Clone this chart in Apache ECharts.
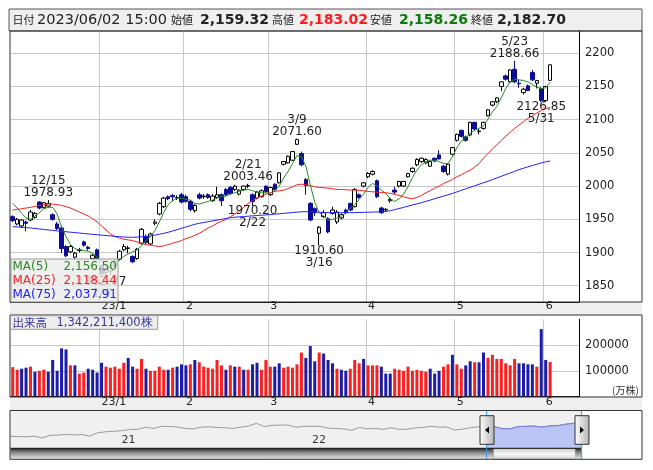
<!DOCTYPE html>
<html>
<head>
<meta charset="utf-8">
<script src="https://cdn.jsdelivr.net/npm/echarts@6/dist/echarts.min.js"></script>
<style>
  html, body { margin: 0; padding: 0; background: #fff; }
  #chart { width: 653px; height: 470px; }
</style>
</head>
<body>
<div id="chart"></div>
<script>
// trading days shown in the main window
const dates = [
  '2022/12/05','2022/12/06','2022/12/07','2022/12/08','2022/12/09','2022/12/12','2022/12/13','2022/12/14','2022/12/15','2022/12/16',
  '2022/12/19','2022/12/20','2022/12/21','2022/12/22','2022/12/23','2022/12/26','2022/12/27','2022/12/28','2022/12/29','2022/12/30',
  '2023/01/04','2023/01/05','2023/01/06','2023/01/10','2023/01/11','2023/01/12','2023/01/13','2023/01/16','2023/01/17','2023/01/18',
  '2023/01/19','2023/01/20','2023/01/23','2023/01/24','2023/01/25','2023/01/26','2023/01/27','2023/01/30','2023/01/31','2023/02/01',
  '2023/02/02','2023/02/03','2023/02/06','2023/02/07','2023/02/08','2023/02/09','2023/02/10','2023/02/13','2023/02/14','2023/02/15',
  '2023/02/16','2023/02/17','2023/02/20','2023/02/21','2023/02/22','2023/02/24','2023/02/27','2023/02/28','2023/03/01','2023/03/02',
  '2023/03/03','2023/03/06','2023/03/07','2023/03/08','2023/03/09','2023/03/10','2023/03/13','2023/03/14','2023/03/15','2023/03/16',
  '2023/03/17','2023/03/20','2023/03/22','2023/03/23','2023/03/24','2023/03/27','2023/03/28','2023/03/29','2023/03/30','2023/03/31',
  '2023/04/03','2023/04/04','2023/04/05','2023/04/06','2023/04/07','2023/04/10','2023/04/11','2023/04/12','2023/04/13','2023/04/14',
  '2023/04/17','2023/04/18','2023/04/19','2023/04/20','2023/04/21','2023/04/24','2023/04/25','2023/04/26','2023/04/27','2023/04/28',
  '2023/05/01','2023/05/02','2023/05/08','2023/05/09','2023/05/10','2023/05/11','2023/05/12','2023/05/15','2023/05/16','2023/05/17',
  '2023/05/18','2023/05/19','2023/05/22','2023/05/23','2023/05/24','2023/05/25','2023/05/26','2023/05/29','2023/05/30','2023/05/31',
  '2023/06/01','2023/06/02'
];
const padSlots = ['', '', '', '', '', ''];

const opens = [
  1954,1943,1940,1946,1949,1953,1976,1968,1970,1957,
  1943,1937,1909,1901,1893,1903,1916,1908,1891,1904,
  1880,1870,1872,1880,1890,1904,1906,1894,1891,1914,
  1924,1913,1944,1958,1969,1984,1986,1982,1987,1984,
  1977,1963,1987,1984,1987,1978,1983,1987,1995,1998,
  1995,1988,1995,2000,1987,1982,1984,2000,1987,2003,
  2005,2033,2035,2039,2063,2049,2010,1974,1966,1929,
  1954,1951,1959,1946,1952,1964,1974,1969,1987,2000,
  2014,2018,2008,1967,1964,1978,1994,2000,2000,2014,
  2022,2032,2037,2035,2030,2042,2047,2030,2018,2048,
  2069,2084,2074,2077,2096,2082,2087,2106,2122,2127,
  2150,2166,2157,2176,2155,2141,2151,2171,2155,2147,
  2129,2159.32
];
const highs = [
  1956,1952,1950,1948,1964,1961,1977,1976,1978.93,1959,
  1946,1940,1911,1911,1901,1907,1918,1910,1898,1906,
  1882,1878,1880,1890,1904,1913,1910,1896,1907,1937,
  1927,1930,1950,1976,1984,1986,1988,1986,1990,1987,
  1979,1973,1990,1988,1989,1988,1999,1989,1997,2000,
  2002,1995,2001,2003.46,1989,1993,1995,2001,1999,2004,
  2021,2038,2046,2053,2071.60,2052,2012,1976,1968,1940,
  1964,1953,1969,1964,1959,1966,1975,1997,1989,2006,
  2021,2024,2010,1969,1967,1983,1999,2008,2008,2020,
  2028,2042,2043,2042,2039,2043,2054,2032,2035,2059,
  2079,2085,2076,2097,2097,2086,2097,2116,2128,2134,
  2158,2168,2176,2188.66,2160,2148,2153,2175,2160,2149,
  2151,2183.02
];
const lows = [
  1946,1941,1937,1932,1947,1951,1965,1966,1968,1948,
  1934,1899,1893,1899,1890,1900,1909,1903,1889,1889,
  1862.87,1866,1866,1877,1888,1902,1899,1884,1889,1912,
  1912,1911,1941,1956,1967,1979,1977,1979,1974,1975,
  1962,1960,1980,1981,1981,1976,1981,1970,1985,1987,
  1993,1986,1993,1997,1970.20,1980,1983,1990,1985,1993,
  2004,2031,2034,2038,2062,2030,1987,1947,1955,1910.60,
  1952,1929,1957,1943,1950,1958,1962,1968,1981,1998,
  2012,2016,1982,1958,1962,1975,1988,1998,1999,2013,
  2020,2030,2035,2033,2029,2036,2040,2020,2016,2046,
  2067,2073,2067,2075,2084,2078,2085,2105,2120,2125,
  2143,2159,2155,2155,2148,2138,2143,2158,2147,2126.85,
  2127,2158.26
];
const closes = [
  1948,1950,1949,1944,1961,1959,1967,1975,1974,1950,
  1936,1906,1895,1909,1899,1904,1911,1906,1896,1891,
  1868,1875,1877,1887,1902,1909,1907,1886,1905,1935,
  1915,1928,1946,1974,1982,1981,1984,1983,1976,1977,
  1965,1971,1982,1985,1983,1985,1987,1978,1987,1989,
  2000,1994,2000,2001,1977,1991,1993,1992,1998,1995,
  2020,2037,2045,2052,2070,2032,2001,1949,1960,1938,
  1960,1931,1964,1961,1957,1960,1964,1995,1983,2005,
  2019,2022,1984,1960,1965,1980,1991,2007,2007,2019,
  2027,2040,2042,2040,2037,2038,2041,2022,2033,2058,
  2078,2075,2069,2096,2086,2083,2096,2115,2127,2133,
  2157,2161,2175,2157,2154,2146,2144,2160,2159,2129,
  2150,2182.70
];

const ma5 = [
  1974,1967,1959,1952,1950,1955,1960,1966,1968,1968,
  1958,1938,1924,1912,1906,1904,1903,1902,1899,1893,
  1886,1881,1878,1882,1889,1894,1898,1901,1904,1910,
  1918,1924,1933,1946,1960,1972,1978,1982,1982,1980,
  1979,1974,1973,1975,1977,1979,1982,1984,1985,1988,
  1990,1992,1994,1995,1993,1991,1990,1990,1989,1993,
  2000,2012,2022,2034,2046,2044,2030,2002,1976,1960,
  1955,1949,1950,1952,1954,1960,1967,1972,1980,1988,
  1998,2004,2001,1994,1989,1981,1977,1981,1988,1999,
  2013,2024,2032,2037,2039,2039,2037,2034,2034,2044,
  2058,2068,2073,2080,2084,2087,2091,2101,2112,2120,
  2133,2147,2157,2161,2160,2159,2157,2153,2149,2147,
  2148,2156.50
];
const ma25 = [
  1964,1965,1966,1967,1968,1969.5,1971,1972,1973,1973,
  1972,1971,1969,1967,1964,1961,1958,1955,1951,1946,
  1940,1934,1928,1924,1922,1920,1919,1918,1916,1914,
  1912,1911,1910,1909,1910,1912,1914,1916,1918,1921,
  1923,1926,1929,1933,1937,1940,1944,1947,1950,1954,
  1958,1963,1968,1974,1978,1982,1985,1988,1990,1992,
  1993,1994,1996,1999,2002,2003,2002,2001,1999,1998,
  1997.5,1997,1996,1995,1995,1994.5,1994,1994,1993.5,1993,
  1992,1991.5,1991,1990.5,1990,1989,1987.5,1986,1984,1982,
  1981,1983,1986,1990,1993,1997,2000,2004,2007,2010,
  2014,2017,2021,2024,2029,2034,2042,2049,2056,2062,
  2069,2075,2081,2087,2092,2097,2102,2106,2110,2114,
  2117,2118.44
];
const ma75 = [
  1939,1938.5,1938,1937.5,1937,1936.3,1935.5,1934.8,1934,1933.3,
  1932.6,1931.9,1931.3,1930.6,1930,1929.3,1928.7,1928,1927.4,1926.8,
  1926.2,1925.6,1925,1924.4,1923.9,1923.4,1923,1922.9,1923.3,1923.8,
  1924.4,1925,1926.3,1927.6,1928.9,1930.5,1932.5,1934.5,1936.5,1938.5,
  1940.5,1942.5,1944,1945.2,1946.4,1947.6,1948.8,1950,1951.2,1952.4,
  1953.2,1953.7,1954.2,1954.7,1955.2,1955.7,1956.2,1956.6,1957.2,1957.8,
  1958.4,1959,1959.6,1960.2,1960.8,1961.4,1961.5,1961.3,1961,1960.7,
  1960.4,1960.2,1960,1960,1960,1960,1960,1960.1,1960.3,1960.5,
  1960.7,1960.9,1961.1,1961.3,1961.6,1963,1964.7,1966.3,1968,1969.8,
  1971.6,1973.3,1975,1977,1979,1981,1983,1985,1987,1989,
  1991.3,1993.6,1995.9,1998.2,2000.5,2002.8,2005.1,2007.3,2009.8,2012.3,
  2014.8,2017.3,2019.8,2022.3,2024.8,2027,2029,2031,2033,2035,
  2036.5,2037.91
];

// volume in 万株, colour flag (u = red, d = blue)
const volumes = [
  114000,104000,108000,112000,116000,96000,100000,104000,96000,142000,
  100000,187000,183000,121000,121000,89000,93000,108000,104000,93000,
  131000,116000,112000,116000,108000,131000,150000,116000,108000,146000,
  108000,100000,100000,116000,104000,104000,112000,116000,125000,121000,
  125000,142000,133000,116000,112000,108000,142000,121000,104000,121000,
  116000,116000,104000,104000,125000,131000,104000,142000,116000,116000,
  129000,112000,116000,112000,125000,171000,150000,196000,137000,171000,
  167000,142000,129000,108000,104000,100000,108000,142000,129000,146000,
  121000,121000,121000,116000,89000,89000,108000,104000,100000,116000,
  100000,104000,100000,96000,108000,89000,100000,116000,125000,162000,
  125000,108000,121000,137000,133000,133000,171000,150000,162000,146000,
  146000,129000,121000,146000,129000,129000,125000,125000,116000,262000,
  142000,134221.14
];
const volDir = (
  'uuddudu' + 'udddd' + 'dudu' + 'uddd' +
  'duuuuuddu' + 'udu' + 'uuubudbdu' +
  'duuuuuudud' + 'ududduuudd' + 'uuuuudddud' +
  'ddudduuudu' + 'uuddduuuuu' + 'uuuddduudu' +
  'uddudduuuu' + 'uuudddduddu' + 'u'
).replace(/b/g, 'd').split('');

const highMarks = ['2022/12/15', '2023/02/21', '2023/03/09', '2023/05/23'];
const lowMarks = ['2023/01/04', '2023/02/22', '2023/03/16', '2023/05/31'];

// long-range history drawn in the navigator strip (semi-monthly)
const sliderDates = [
  '2020/06/01','2020/06/15','2020/07/01','2020/07/15','2020/08/01','2020/08/15','2020/09/01','2020/09/15','2020/10/01','2020/10/15',
  '2020/11/01','2020/11/15','2020/12/01','2020/12/15','2021/01/01','2021/01/15','2021/02/01','2021/02/15','2021/03/01','2021/03/15',
  '2021/04/01','2021/04/15','2021/05/01','2021/05/15','2021/06/01','2021/06/15','2021/07/01','2021/07/15','2021/08/01','2021/08/15',
  '2021/09/01','2021/09/15','2021/10/01','2021/10/15','2021/11/01','2021/11/15','2021/12/01','2021/12/15','2022/01/01','2022/01/15',
  '2022/02/01','2022/02/15','2022/03/01','2022/03/15','2022/04/01','2022/04/15','2022/05/01','2022/05/15','2022/06/01','2022/06/15',
  '2022/07/01','2022/07/15','2022/08/01','2022/08/15','2022/09/01','2022/09/15','2022/10/01','2022/10/15','2022/11/01','2022/11/15',
  '2022/12/01','2022/12/15','2023/01/01','2023/01/15','2023/02/01','2023/02/15','2023/03/01','2023/03/15','2023/04/01','2023/04/15',
  '2023/05/01','2023/05/15','2023/06/01'
];
const sliderValues = [
  1570,1560,1545,1575,1500,1615,1620,1650,1625,1645,
  1580,1720,1760,1780,1805,1855,1860,1950,1900,1985,
  1980,1960,1900,1880,1950,1970,1940,1930,1900,1950,
  2000,2110,1980,2030,2040,2040,1950,1990,1990,1990,
  1910,1900,1880,1820,1940,1880,1900,1860,1930,1860,
  1870,1920,1940,1990,1950,1960,1835,1870,1930,1970,
  1986,1974,1891,1886,1977,1989,1998,1960,2005,2019,
  2078,2115,2183
];
const sliderSelStart = '2022/12/01';

const cats = dates.concat(padSlots);
const monthStart = cats.map((d, i) => i > 0 && d !== '' && d.slice(5, 7) !== cats[i - 1].slice(5, 7));
const monthLabel = v => {
  const m = +v.slice(5, 7);
  return m === 1 ? v.slice(2, 4) + '/' + m : String(m);
};
const fmt2 = v => v.toLocaleString('en-US', { minimumFractionDigits: 2, maximumFractionDigits: 2 });
const md = d => (+d.slice(5, 7)) + '/' + (+d.slice(8, 10));
const last = dates.length - 1;

const NUM = '"DejaVu Sans"';
const JP = '"Noto Sans CJK JP"';

const markData = highMarks.map(d => {
  const i = dates.indexOf(d);
  return { coord: [d, highs[i]], label: { position: 'top', distance: 1, formatter: md(d) + '\n' + highs[i].toFixed(2) } };
}).concat(lowMarks.map(d => {
  const i = dates.indexOf(d);
  return { coord: [d, lows[i]], label: { position: 'bottom', distance: -1, formatter: lows[i].toFixed(2) + '\n' + md(d) } };
}));

const selIdx = sliderDates.indexOf(sliderSelStart);

const myChart = echarts.init(document.getElementById('chart'), null, { renderer: 'canvas' });
myChart.setOption({
  animation: false,
  backgroundColor: '#ffffff',
  textStyle: { fontFamily: 'DejaVu Sans' },
  grid: [
    { left: 10.5, top: 31, width: 568.5, height: 271 },
    { left: 10.5, top: 319.3, width: 568.5, height: 77.2 },
    { left: 10.5, top: 411, width: 571.1, height: 37 }
  ],
  xAxis: [
    {
      type: 'category', gridIndex: 0, data: cats, boundaryGap: true,
      axisLine: { lineStyle: { color: '#000' } },
      axisTick: { show: false },
      axisLabel: { interval: i => monthStart[i], formatter: monthLabel, align: 'left', margin: -1, fontSize: 11, color: '#222' },
      splitLine: { show: true, interval: i => monthStart[i], lineStyle: { color: '#c8c8c8', width: 1 } }
    },
    {
      type: 'category', gridIndex: 1, data: cats, boundaryGap: true,
      axisLine: { lineStyle: { color: '#000' } },
      axisTick: { show: false },
      axisLabel: { interval: i => monthStart[i], formatter: monthLabel, align: 'left', margin: 0, fontSize: 11, color: '#222' },
      splitLine: { show: true, interval: i => monthStart[i], lineStyle: { color: '#c8c8c8', width: 1 } }
    },
    {
      type: 'category', gridIndex: 2, data: sliderDates, boundaryGap: false,
      axisLine: { show: false }, axisTick: { show: false }, splitLine: { show: false },
      axisLabel: {
        inside: true, margin: 2, fontSize: 11, color: '#333', align: 'left', verticalAlign: 'bottom',
        interval: i => sliderDates[i].slice(5) === '01/01',
        formatter: v => v.slice(2, 4)
      }
    }
  ],
  yAxis: [
    {
      type: 'value', gridIndex: 0, position: 'right',
      min: 1825.5, max: 2233.6, splitNumber: 8, minInterval: 50, maxInterval: 50,
      axisLine: { show: true, lineStyle: { color: '#000' } },
      axisTick: { show: false },
      axisLabel: { margin: 6, fontSize: 11.5, color: '#222', formatter: v => (v % 50 === 0 ? String(v) : '') },
      splitLine: { show: true, showMinLine: false, showMaxLine: false, lineStyle: { color: '#c8c8c8' } }
    },
    {
      type: 'value', gridIndex: 1, position: 'right',
      min: 0, max: 299999, splitNumber: 3, minInterval: 100000, maxInterval: 100000,
      axisLine: { show: true, lineStyle: { color: '#000' } },
      axisTick: { show: false },
      axisLabel: { margin: 6, fontSize: 11.5, color: '#222', formatter: v => (v === 100000 || v === 200000 ? String(v) : '') },
      splitLine: { show: true, showMinLine: false, showMaxLine: false, lineStyle: { color: '#c8c8c8' } }
    },
    { type: 'value', gridIndex: 2, min: 1080, max: 2630, show: false }
  ],
  series: [
    {
      type: 'candlestick', xAxisIndex: 0, yAxisIndex: 0,
      data: opens.map((o, i) => [o, closes[i], lows[i], highs[i]]),
      barWidth: 4,
      itemStyle: { color: '#ffffff', color0: '#0c0c96', borderColor: '#000000', borderColor0: '#0c0c96', borderWidth: 1 },
      markPoint: {
        symbol: 'circle', symbolSize: 0.1, silent: true,
        itemStyle: { color: 'transparent' },
        label: { show: true, color: '#222', fontSize: 12, lineHeight: 12, fontFamily: 'DejaVu Sans' },
        data: markData
      }
    },
    { type: 'line', xAxisIndex: 0, yAxisIndex: 0, data: ma5, symbol: 'none', z: 3, lineStyle: { color: '#268a26', width: 1 } },
    { type: 'line', xAxisIndex: 0, yAxisIndex: 0, data: ma25, symbol: 'none', z: 3, lineStyle: { color: '#ff2020', width: 1 } },
    { type: 'line', xAxisIndex: 0, yAxisIndex: 0, data: ma75, symbol: 'none', z: 3, lineStyle: { color: '#2020ff', width: 1 } },
    {
      type: 'bar', xAxisIndex: 1, yAxisIndex: 1, barWidth: 3,
      data: volumes.map((v, i) => ({ value: v, itemStyle: { color: volDir[i] === 'u' ? '#ff1e1e' : '#1c1ca8' } }))
    },
    {
      type: 'line', xAxisIndex: 2, yAxisIndex: 2, data: sliderValues, symbol: 'none',
      lineStyle: { color: '#9a9a9a', width: 1 }
    },
    {
      type: 'line', xAxisIndex: 2, yAxisIndex: 2, symbol: 'none', z: 3,
      data: sliderValues.map((v, i) => (i >= selIdx ? v : null)),
      lineStyle: { color: '#7484d8', width: 1 },
      areaStyle: { color: '#b8c5f5', opacity: 1 }
    }
  ],
  graphic: [
    // panel backgrounds
    { type: 'rect', z: -10, silent: true, shape: { x: 9, y: 9, width: 633, height: 22 }, style: { fill: '#efefef', stroke: '#555', lineWidth: 1 } },
    { type: 'rect', z: -10, silent: true, shape: { x: 10, y: 302, width: 632, height: 13 }, style: { fill: '#efefef' } },
    { type: 'rect', z: -10, silent: true, shape: { x: 10, y: 397, width: 632, height: 13 }, style: { fill: '#efefef' } },
    { type: 'rect', z: -10, silent: true, shape: { x: 10.5, y: 410.5, width: 571.1, height: 37.8 }, style: { fill: '#f0f0f0' } },
    // header text
    { type: 'text', z: 20, x: 12.5, y: 20, style: { text: '日付', font: '11px ' + JP, fill: '#222', verticalAlign: 'middle' } },
    { type: 'text', z: 20, x: 37, y: 20, style: { text: dates[last] + ' 15:00', font: '14.5px ' + NUM, fill: '#222', verticalAlign: 'middle' } },
    { type: 'text', z: 20, x: 171, y: 20, style: { text: '始値', font: '11px ' + JP, fill: '#222', verticalAlign: 'middle' } },
    { type: 'text', z: 20, x: 200, y: 20, style: { text: fmt2(opens[last]), font: 'bold 14px ' + NUM, fill: '#222', verticalAlign: 'middle' } },
    { type: 'text', z: 20, x: 272, y: 20, style: { text: '高値', font: '11px ' + JP, fill: '#222', verticalAlign: 'middle' } },
    { type: 'text', z: 20, x: 299, y: 20, style: { text: fmt2(highs[last]), font: 'bold 14px ' + NUM, fill: '#ff1a1a', verticalAlign: 'middle' } },
    { type: 'text', z: 20, x: 370, y: 20, style: { text: '安値', font: '11px ' + JP, fill: '#222', verticalAlign: 'middle' } },
    { type: 'text', z: 20, x: 399, y: 20, style: { text: fmt2(lows[last]), font: 'bold 14px ' + NUM, fill: '#0a7a0a', verticalAlign: 'middle' } },
    { type: 'text', z: 20, x: 471, y: 20, style: { text: '終値', font: '11px ' + JP, fill: '#222', verticalAlign: 'middle' } },
    { type: 'text', z: 20, x: 497, y: 20, style: { text: fmt2(closes[last]), font: 'bold 14px ' + NUM, fill: '#222', verticalAlign: 'middle' } },
    // MA legend box
    { type: 'rect', z: 60, silent: true, shape: { x: 11, y: 259, width: 107, height: 43 }, style: { fill: 'rgba(236,236,236,0.82)', stroke: '#9a9a9a', lineWidth: 1 } },
    { type: 'text', z: 61, x: 12.5, y: 267, style: { text: 'MA(5)', font: '12px ' + NUM, fill: '#268a26', verticalAlign: 'middle' } },
    { type: 'text', z: 61, x: 117, y: 267, style: { text: fmt2(ma5[last]), font: '12px ' + NUM, fill: '#268a26', align: 'right', verticalAlign: 'middle' } },
    { type: 'text', z: 61, x: 12.5, y: 280.5, style: { text: 'MA(25)', font: '12px ' + NUM, fill: '#ff2020', verticalAlign: 'middle' } },
    { type: 'text', z: 61, x: 117, y: 280.5, style: { text: fmt2(ma25[last]), font: '12px ' + NUM, fill: '#ff2020', align: 'right', verticalAlign: 'middle' } },
    { type: 'text', z: 61, x: 12.5, y: 294.5, style: { text: 'MA(75)', font: '12px ' + NUM, fill: '#2020ff', verticalAlign: 'middle' } },
    { type: 'text', z: 61, x: 117, y: 294.5, style: { text: fmt2(ma75[last]), font: '12px ' + NUM, fill: '#2020ff', align: 'right', verticalAlign: 'middle' } },
    // volume caption
    { type: 'rect', z: 60, silent: true, shape: { x: 10.5, y: 315.7, width: 147.2, height: 13.6 }, style: { fill: '#eeeeee', stroke: '#9a9a9a', lineWidth: 1 } },
    { type: 'text', z: 61, x: 12.5, y: 322.7, style: { text: '出来高', font: '11.5px ' + JP, fill: '#3434a8', verticalAlign: 'middle' } },
    { type: 'text', z: 61, x: 56.5, y: 322.7, style: { text: Math.round(volumes[last] * 10000).toLocaleString('en-US') + '株', font: '11.5px ' + NUM, fill: '#3434a8', verticalAlign: 'middle' } },
    { type: 'text', z: 61, x: 612, y: 390, style: { text: '(万株)', font: '10px ' + JP, fill: '#333', verticalAlign: 'middle' } },
    // navigator scrollbar
    { type: 'rect', z: 40, silent: true, shape: { x: 10.5, y: 448.3, width: 483.2, height: 11 },
      style: { fill: { type: 'linear', x: 0, y: 0, x2: 0, y2: 1, colorStops: [{ offset: 0, color: '#2a2a2a' }, { offset: 0.4, color: '#8c8c8c' }, { offset: 1, color: '#ececec' }] } } },
    { type: 'rect', z: 40, silent: true, shape: { x: 493.7, y: 448.3, width: 81.6, height: 11 },
      style: { fill: { type: 'linear', x: 0, y: 0, x2: 0, y2: 1, colorStops: [{ offset: 0, color: '#c8c8c8' }, { offset: 0.5, color: '#f6f6f6' }, { offset: 1, color: '#d6d6d6' }] }, stroke: '#888', lineWidth: 0.5 } },
    { type: 'rect', z: 40, silent: true, shape: { x: 575.3, y: 448.3, width: 6.3, height: 11 },
      style: { fill: { type: 'linear', x: 0, y: 0, x2: 0, y2: 1, colorStops: [{ offset: 0, color: '#2a2a2a' }, { offset: 0.4, color: '#8c8c8c' }, { offset: 1, color: '#ececec' }] } } },
    { type: 'line', z: 41, silent: true, shape: { x1: 10.5, y1: 448.3, x2: 581.6, y2: 448.3 }, style: { stroke: '#111', lineWidth: 1 } },
    { type: 'line', z: 42, silent: true, shape: { x1: 486.6, y1: 410.5, x2: 486.6, y2: 459 }, style: { stroke: '#3aa0f0', lineWidth: 1 } },
    { type: 'line', z: 42, silent: true, shape: { x1: 581.6, y1: 410.5, x2: 581.6, y2: 459 }, style: { stroke: '#3aa0f0', lineWidth: 1 } },
    // navigator handles
    { type: 'rect', z: 43, silent: true, shape: { x: 480, y: 415.7, width: 14, height: 28.6 },
      style: { fill: { type: 'linear', x: 0, y: 0, x2: 1, y2: 0, colorStops: [{ offset: 0, color: '#ffffff' }, { offset: 1, color: '#b4b4b4' }] }, stroke: '#333', lineWidth: 1 } },
    { type: 'polygon', z: 44, silent: true, shape: { points: [[489, 426.5], [489, 433.5], [485, 430]] }, style: { fill: '#000' } },
    { type: 'rect', z: 43, silent: true, shape: { x: 575, y: 415.7, width: 14, height: 28.6 },
      style: { fill: { type: 'linear', x: 0, y: 0, x2: 1, y2: 0, colorStops: [{ offset: 0, color: '#ffffff' }, { offset: 1, color: '#b4b4b4' }] }, stroke: '#333', lineWidth: 1 } },
    { type: 'polygon', z: 44, silent: true, shape: { points: [[580, 426.5], [580, 433.5], [584, 430]] }, style: { fill: '#000' } },
    // panel frames
    { type: 'rect', z: 50, silent: true, shape: { x: 10, y: 31, width: 632, height: 271 }, style: { fill: 'none', stroke: '#333', lineWidth: 1 } },
    { type: 'rect', z: 50, silent: true, shape: { x: 10, y: 315, width: 632, height: 82 }, style: { fill: 'none', stroke: '#333', lineWidth: 1 } },
    { type: 'rect', z: 50, silent: true, shape: { x: 10, y: 410.5, width: 632, height: 48.8 }, style: { fill: 'none', stroke: '#333', lineWidth: 1 } }
  ]
});
</script>
</body>
</html>
